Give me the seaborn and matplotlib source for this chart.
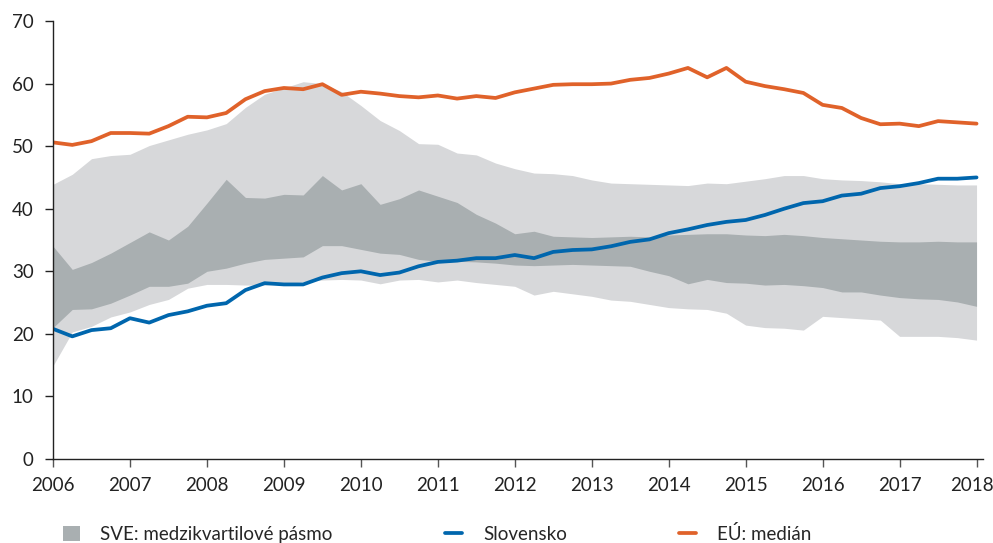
import matplotlib.pyplot as plt
import matplotlib.transforms as mtransforms
import numpy as np
import pandas as pd
import seaborn as sns

# quarterly data 2006Q1 .. 2018Q1
quarters = np.arange(2006, 2018.01, 0.25)

eu_median = [50.6, 50.2, 50.8, 52.1, 52.1, 52.0, 53.2, 54.7, 54.6, 55.3, 57.5, 58.8,
             59.3, 59.1, 59.9, 58.2, 58.7, 58.4, 58.0, 57.8, 58.1, 57.6, 58.0, 57.7,
             58.6, 59.2, 59.8, 59.9, 59.9, 60.0, 60.6, 60.9, 61.6, 62.5, 61.0, 62.5,
             60.3, 59.6, 59.1, 58.5, 56.6, 56.1, 54.5, 53.5, 53.6, 53.2, 54.0, 53.8, 53.6]

slovensko = [20.8, 19.6, 20.6, 20.9, 22.5, 21.8, 23.0, 23.6, 24.5, 24.9, 27.0, 28.1,
             27.9, 27.9, 29.0, 29.7, 30.0, 29.4, 29.8, 30.8, 31.5, 31.7, 32.1, 32.1,
             32.6, 32.1, 33.1, 33.4, 33.5, 34.0, 34.7, 35.1, 36.1, 36.7, 37.4, 37.9,
             38.2, 39.0, 40.0, 40.9, 41.2, 42.1, 42.4, 43.3, 43.6, 44.1, 44.8, 44.8, 45.0]

range_high = [43.9, 45.5, 48.0, 48.5, 48.7, 50.1, 51.0, 51.9, 52.6, 53.6, 56.2, 58.3,
              59.3, 60.3, 60.0, 58.7, 56.5, 54.1, 52.5, 50.4, 50.3, 48.9, 48.6, 47.3,
              46.4, 45.7, 45.6, 45.3, 44.6, 44.1, 44.0, 43.9, 43.8, 43.7, 44.1, 44.0,
              44.4, 44.8, 45.3, 45.3, 44.8, 44.6, 44.5, 44.3, 44.0, 44.0, 43.9, 43.8, 43.8]

range_low = [14.9, 20.3, 21.2, 22.7, 23.5, 24.7, 25.5, 27.3, 27.9, 27.9, 27.8, 27.8,
             28.0, 28.3, 28.6, 28.7, 28.6, 28.0, 28.6, 28.7, 28.3, 28.6, 28.2, 27.9,
             27.6, 26.2, 26.8, 26.4, 26.0, 25.4, 25.2, 24.7, 24.2, 24.0, 23.9, 23.3,
             21.4, 21.0, 20.9, 20.6, 22.8, 22.6, 22.4, 22.2, 19.6, 19.6, 19.6, 19.4, 19.0]

q3 = [34.0, 30.3, 31.4, 32.9, 34.6, 36.3, 35.0, 37.2, 40.9, 44.7, 41.8, 41.7,
      42.3, 42.2, 45.3, 43.0, 44.0, 40.7, 41.6, 43.0, 42.0, 41.0, 39.1, 37.7,
      36.0, 36.4, 35.6, 35.5, 35.4, 35.5, 35.6, 35.5, 35.8, 35.9, 36.0, 36.0,
      35.8, 35.7, 35.9, 35.7, 35.4, 35.2, 35.0, 34.8, 34.7, 34.7, 34.8, 34.7, 34.7]

q1 = [21.0, 23.9, 24.0, 24.9, 26.2, 27.6, 27.6, 28.1, 30.0, 30.5, 31.3, 31.9,
      32.1, 32.3, 34.1, 34.1, 33.5, 32.9, 32.7, 31.9, 31.6, 31.6, 31.5, 31.3,
      31.0, 30.9, 31.0, 31.1, 31.0, 30.9, 30.8, 30.0, 29.3, 28.0, 28.7, 28.2,
      28.1, 27.8, 27.9, 27.7, 27.4, 26.7, 26.7, 26.2, 25.8, 25.6, 25.5, 25.1, 24.4]

years = list(range(2006, 2019))

LIGHT = '#d7d8da'
DARK = '#a9afb1'
BLUE = '#0066ad'
ORANGE = '#e0622a'

df = pd.DataFrame({'q': quarters, 'sk': slovensko, 'eu': eu_median,
                   'lo': range_low, 'hi': range_high, 'q1': q1, 'q3': q3})

sns.set_theme(style='ticks')
plt.rcParams['font.family'] = ['Lato', 'DejaVu Sans']

fig = plt.figure(figsize=(9.93, 5.43), dpi=100)
ax = fig.add_axes([0.0534, 0.1547, 0.937, 0.8066])

ax.fill_between(df['q'], df['lo'], df['hi'], color=LIGHT, lw=0)
ax.fill_between(df['q'], df['q1'], df['q3'], color=DARK, lw=0, label='SVE: medzikvartilové pásmo')
sns.lineplot(data=df, x='q', y='sk', ax=ax, color=BLUE, lw=2.7, label='Slovensko')
sns.lineplot(data=df, x='q', y='eu', ax=ax, color=ORANGE, lw=2.7, label='EÚ: medián')

ax.set_xlim(2006, 2018.09)
ax.set_ylim(0, 70)
ax.set_xticks(years)
ax.set_xticklabels([str(y) for y in years])
ax.set_yticks(range(0, 71, 10))
ax.set_xlabel('')
ax.set_ylabel('')
ax.tick_params(axis='both', labelsize=13.5, colors='#222222', length=6, width=1, pad=8)
ax.tick_params(axis='x', colors='#555555', labelcolor='#222222', pad=7)
for s in ['left', 'bottom']:
    ax.spines[s].set_color('#222222')
    ax.spines[s].set_linewidth(1)
sns.despine(ax=ax)

# last year label is nudged left so it stays inside the figure
last = ax.get_xticklabels()[-1]
last.set_transform(last.get_transform() + mtransforms.ScaledTranslation(-5 / 100, 0, fig.dpi_scale_trans))

handles, labels = ax.get_legend_handles_labels()
ax.get_legend().remove()
fig.legend(handles, labels, loc='center left', bbox_to_anchor=(0.0634, 0.0166), ncol=3,
           frameon=False, fontsize=13.5, handlelength=0.9, handleheight=0.9,
           handletextpad=1.1, columnspacing=6.0, borderpad=0, borderaxespad=0)

plt.savefig('out.png', dpi=100)
plt.close(fig)
